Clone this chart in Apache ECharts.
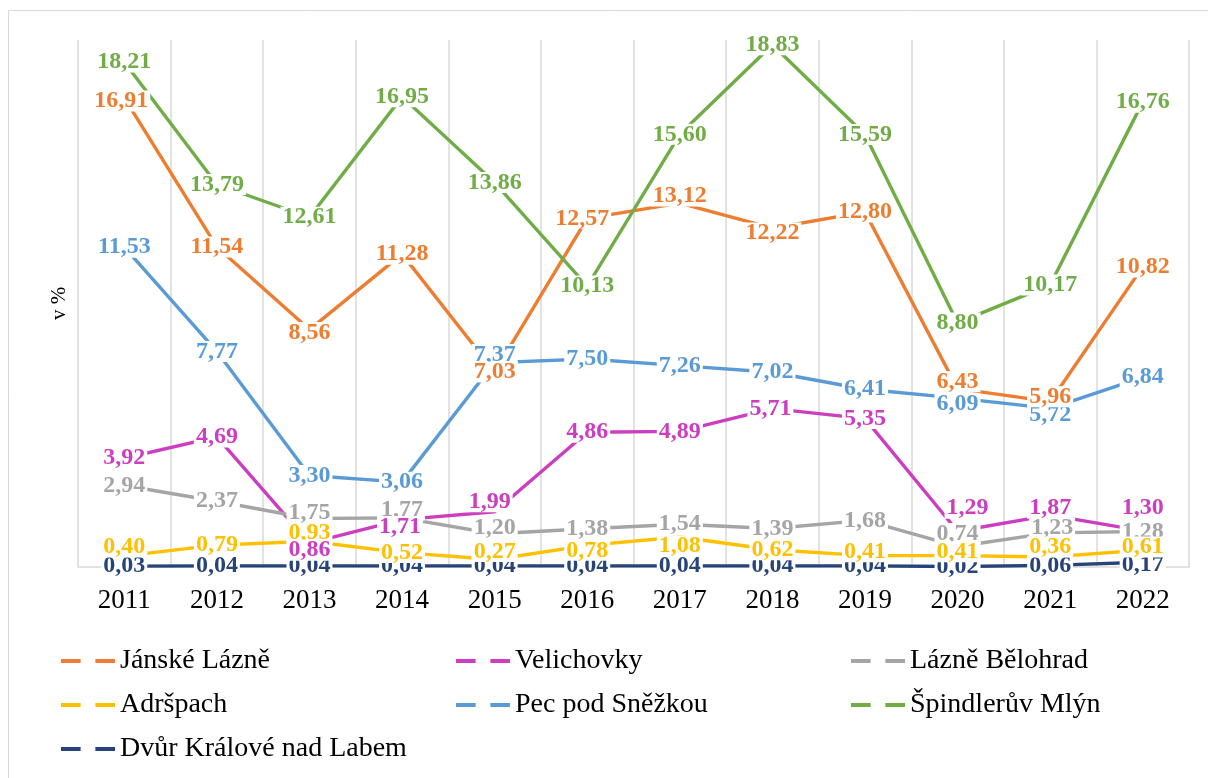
<!DOCTYPE html>
<html>
<head>
<meta charset="utf-8">
<title>v %</title>
<script src="https://cdn.jsdelivr.net/npm/echarts@6/dist/echarts.min.js"></script>
<style>
  html, body { margin: 0; padding: 0; background: #fff; }
  #chart { width: 1208px; height: 778px; }
</style>
</head>
<body>
<div id="chart"></div>
<script>
// data
const years = ['2011', '2012', '2013', '2014', '2015', '2016', '2017', '2018', '2019', '2020', '2021', '2022'];
const janskeLazne = [16.91, 11.54, 8.56, 11.28, 7.03, 12.57, 13.12, 12.22, 12.80, 6.43, 5.96, 10.82];
const velichovky = [3.92, 4.69, 0.86, 1.71, 1.99, 4.86, 4.89, 5.71, 5.35, 1.29, 1.87, 1.30];
const lazneBelohrad = [2.94, 2.37, 1.75, 1.77, 1.20, 1.38, 1.54, 1.39, 1.68, 0.74, 1.23, 1.28];
const adrspach = [0.40, 0.79, 0.93, 0.52, 0.27, 0.78, 1.08, 0.62, 0.41, 0.41, 0.36, 0.61];
const pecPodSnezkou = [11.53, 7.77, 3.30, 3.06, 7.37, 7.50, 7.26, 7.02, 6.41, 6.09, 5.72, 6.84];
const spindleruvMlyn = [18.21, 13.79, 12.61, 16.95, 13.86, 10.13, 15.60, 18.83, 15.59, 8.80, 10.17, 16.76];
const dvurKralove = [0.03, 0.04, 0.04, 0.04, 0.04, 0.04, 0.04, 0.04, 0.04, 0.02, 0.06, 0.17];

// label nudges (px), where the labels were moved by hand in the original
const nudges = {
  'Jánské Lázně': [[-3, 3], 0, [0, 3], 0, 0, [-5, 0], [0, -7], [0, 5], 0, [0, -7], [0, -5], 0],
  'Velichovky': [0, 0, [0, 7], [-2, 7], [-5, -10], 0, 0, [-2, 0], 0, [10, -23], [0, -7], [0, -23]],
  'Lázně Bělohrad': [0, 0, [0, -6], [0, -8], [0, -6], 0, 0, 0, 0, [0, -13], [2, -5], 0],
  'Adršpach': [[0, -9], 0, [0, -8], 0, [0, -8], [0, 5], [0, 9], 0, [0, -4], [0, -4], [0, -10], [0, -3]],
  'Pec pod Sněžkou': [0, 0, 0, 0, [0, -8], 0, 0, 0, 0, [0, 6], [0, 6], 0],
  'Špindlerův Mlýn': [],
  'Dvůr Králové nad Labem': [0, 0, 0, 0, 0, 0, 0, 0, 0, 0, 0, [0, 3]]
};

const font = 'Liberation Serif';
const dashIcon = 'path://M0,0H20V4H0Z M35,0H55V4H35Z';

const lines = [
  ['Jánské Lázně', janskeLazne, '#ED7D31'],
  ['Velichovky', velichovky, '#CC3EBF'],
  ['Lázně Bělohrad', lazneBelohrad, '#A5A5A5'],
  ['Adršpach', adrspach, '#FFC000'],
  ['Pec pod Sněžkou', pecPodSnezkou, '#5B9BD5'],
  ['Špindlerův Mlýn', spindleruvMlyn, '#70AD47'],
  ['Dvůr Králové nad Labem', dvurKralove, '#264478']
];

// the line itself
function lineSeries([name, values, color]) {
  return {
    name: name,
    type: 'line',
    z: 2,
    data: values,
    showSymbol: false,
    lineStyle: { color: color, width: 3.4 },
    itemStyle: { color: color },
    emphasis: { disabled: true }
  };
}

// only the labels, on a layer above every line (white box hides the line)
function labelSeries([name, values, color]) {
  const nudge = nudges[name];
  return {
    name: name + ' label',
    type: 'line',
    zlevel: 1,
    z: 3,
    data: values.map((v, i) => ({
      value: v,
      label: { offset: nudge[i] || [0, 0] }
    })),
    symbol: 'circle',
    symbolSize: 1,
    lineStyle: { width: 0, opacity: 0 },
    itemStyle: { color: 'rgba(255,255,255,0)' },
    label: {
      show: true,
      position: 'inside',
      color: color,
      fontFamily: font,
      fontWeight: 'bold',
      fontSize: 24,
      lineHeight: 21,
      backgroundColor: '#fff',
      padding: [0, 2],
      formatter: p => p.value.toFixed(2).replace('.', ',')
    },
    emphasis: { disabled: true },
    silent: true
  };
}

function legend(left, names) {
  return {
    orient: 'vertical',
    left: left,
    top: 646,
    padding: 0,
    itemGap: 14,
    itemWidth: 54,
    itemHeight: 4,
    icon: dashIcon,
    selectedMode: false,
    textStyle: { fontFamily: font, fontSize: 28, color: '#000', lineHeight: 30 },
    data: names
  };
}

// label draw order: orange last so its labels sit on top, as in the original
const labelOrder = [6, 2, 3, 1, 4, 5, 0];

const myChart = echarts.init(document.getElementById('chart'));
myChart.setOption({
  animation: false,
  textStyle: { fontFamily: font },
  graphic: [{
    type: 'rect',
    shape: { x: 8.5, y: 10.5, width: 1400, height: 900 },
    style: { fill: 'none', stroke: '#D9D9D9', lineWidth: 1 },
    silent: true
  }],
  grid: { left: 78, right: 19, top: 40, bottom: 211 },
  legend: [
    legend(61, ['Jánské Lázně', 'Adršpach', 'Dvůr Králové nad Labem']),
    legend(456, ['Velichovky', 'Pec pod Sněžkou']),
    legend(851, ['Lázně Bělohrad', 'Špindlerův Mlýn'])
  ],
  xAxis: {
    type: 'category',
    data: years,
    boundaryGap: true,
    axisTick: { show: false },
    axisLine: { lineStyle: { color: '#D9D9D9', width: 1.5 } },
    splitLine: { show: true, lineStyle: { color: '#D9D9D9', width: 1.5 } },
    axisLabel: { color: '#000', fontFamily: font, fontSize: 27, margin: 20 }
  },
  yAxis: {
    type: 'value',
    min: 0,
    max: 19,
    name: 'v %',
    nameLocation: 'middle',
    nameGap: 8,
    nameTextStyle: { color: '#000', fontFamily: font, fontSize: 21 },
    axisLabel: { show: false },
    axisTick: { show: false },
    axisLine: { show: false },
    splitLine: { show: false }
  },
  series: lines.map(lineSeries).concat(labelOrder.map(i => labelSeries(lines[i])))
});
</script>
</body>
</html>
